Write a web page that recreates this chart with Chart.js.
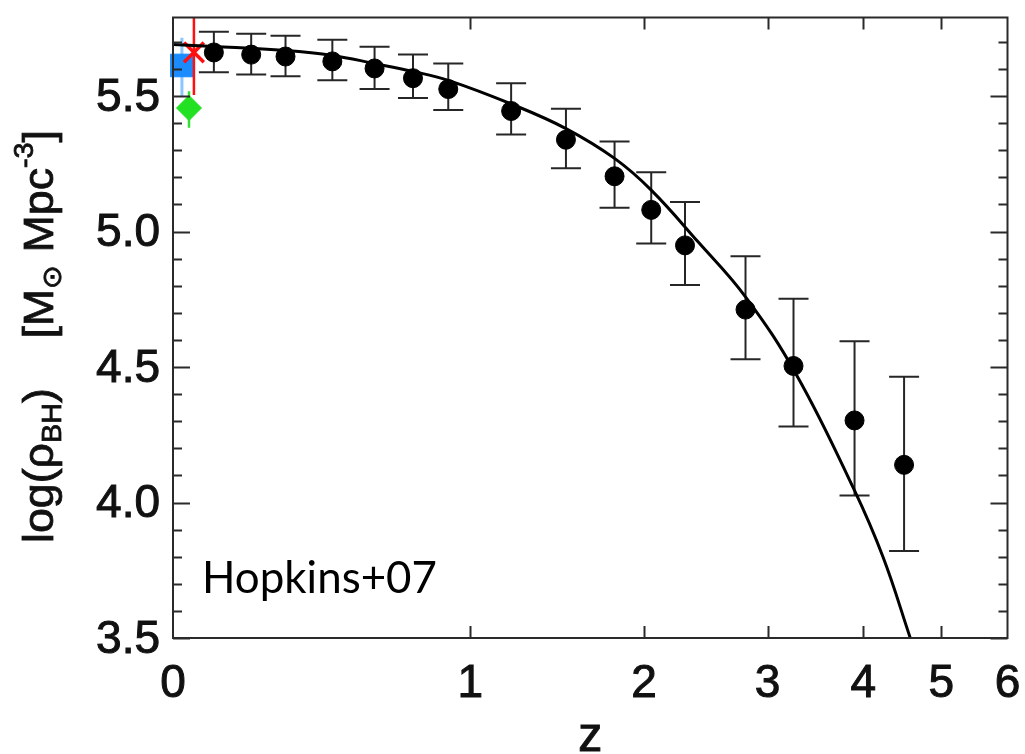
<!DOCTYPE html>
<html lang="en">
<head>
  <meta charset="UTF-8" />
  <title>Black hole mass density vs redshift</title>
  <script src="https://cdn.jsdelivr.net/npm/chart.js"></script>
  <style>
    html, body { margin: 0; padding: 0; background: #fff; }
    #wrap { width: 1025px; height: 754px; }
  </style>
</head>
<body>
  <div id="wrap"><canvas id="rhoChart" width="1025" height="754"></canvas></div>

  <script>
    // Hopkins+07 binned estimates: redshift, log(rho_BH) and error range
    const zBins   = [0.1, 0.2, 0.3, 0.45, 0.6, 0.75, 0.9, 1.2, 1.5, 1.8, 2.05, 2.3, 2.8, 3.25, 3.9, 4.5];
    const logRho  = [5.661, 5.653, 5.646, 5.628, 5.602, 5.566, 5.526, 5.445, 5.339, 5.204, 5.080, 4.949, 4.712, 4.504, 4.303, 4.139];
    const errLow  = [5.588, 5.580, 5.573, 5.558, 5.526, 5.493, 5.449, 5.358, 5.234, 5.088, 4.956, 4.803, 4.529, 4.281, 4.026, 3.821];
    const errHigh = [5.737, 5.730, 5.723, 5.708, 5.682, 5.653, 5.620, 5.547, 5.453, 5.332, 5.219, 5.109, 4.909, 4.752, 4.595, 4.464];

    // fitted curve, read at a handful of redshifts
    const fitZ   = [0, 0.1, 0.3, 0.45, 0.6, 0.75, 0.9, 1.2, 1.5, 1.8, 2.05, 2.4, 2.8, 3.28, 3.89, 4.24, 4.58];
    const fitRho = [5.690, 5.683, 5.668, 5.650, 5.620, 5.591, 5.558, 5.471, 5.380, 5.270, 5.153, 4.963, 4.759, 4.471, 4.051, 3.796, 3.5];

    // local (z ~ 0) estimates: blue square, red cross, green diamond
    const localZ    = [0.021, 0.05, 0.038];
    const localRho  = [5.613, 5.661, 5.456];
    const localLow  = [5.500, 5.504, 5.383];
    const localHigh = [5.715, 5.800, 5.518];

    const zTicks = [0, 1, 2, 3, 4, 5, 6];
    const yTicks = [3.5, 4.0, 4.5, 5.0, 5.5];
    const yMinorStep = 0.1;

    // x axis is linear in log10(1+z)
    const zx = z => Math.log10(1 + z);

    const pts = (zs, ys) => zs.map((z, i) => ({ x: zx(z), y: ys[i] }));

    // error bars as one broken line, caps drawn with the 'line' point style
    const errSegs = [];
    zBins.forEach((z, i) => {
      errSegs.push({ x: zx(z), y: errLow[i] }, { x: zx(z), y: errHigh[i] }, { x: zx(z), y: null });
    });
    const localSeg = i => [{ x: zx(localZ[i]), y: localLow[i] }, { x: zx(localZ[i]), y: localHigh[i] }];

    const plain = { showLine: true, pointRadius: 0, tension: 0, spanGaps: false };

    // text drawn twice: fill plus a thin stroke to get the heavier look
    function heavyText(ctx, s, x, y) {
      ctx.fillText(s, x, y);
      ctx.strokeText(s, x, y);
    }

    // frame, inward ticks, labels and titles
    const framePlugin = {
      id: 'frame',
      afterDraw(chart) {
        const { ctx, chartArea: a, scales: { x, y } } = chart;
        ctx.save();
        ctx.strokeStyle = '#2a2a2a';
        ctx.lineWidth = 2;
        ctx.strokeRect(a.left, a.top, a.right - a.left, a.bottom - a.top);

        // y ticks, both sides
        ctx.beginPath();
        for (let v = yTicks[0]; v <= y.max + 1e-9; v += yMinorStep) {
          const py = Math.round(y.getPixelForValue(v)) + 0.5;
          const major = yTicks.some(t => Math.abs(t - v) < 1e-6);
          const len = major ? 17 : 9;
          ctx.moveTo(a.left, py); ctx.lineTo(a.left + len, py);
          ctx.moveTo(a.right, py); ctx.lineTo(a.right - len, py);
        }
        // x ticks, bottom and top
        zTicks.slice(1, -1).forEach(z => {
          const px = Math.round(x.getPixelForValue(zx(z))) + 0.5;
          ctx.moveTo(px, a.bottom); ctx.lineTo(px, a.bottom - 12);
          ctx.moveTo(px, a.top); ctx.lineTo(px, a.top + 12);
        });
        ctx.stroke();

        ctx.fillStyle = '#111';
        ctx.strokeStyle = '#111';
        ctx.lineWidth = 1;
        ctx.font = '46px "Liberation Sans", Arial, sans-serif';
        ctx.textAlign = 'right';
        ctx.textBaseline = 'middle';
        yTicks.forEach(t => heavyText(ctx, t.toFixed(1), 160, y.getPixelForValue(t) + 2));

        ctx.textAlign = 'center';
        zTicks.forEach(z => heavyText(ctx, String(z), x.getPixelForValue(zx(z)), 684));

        ctx.font = '48px "Liberation Sans", Arial, sans-serif';
        heavyText(ctx, 'z', (a.left + a.right) / 2, 738);

        // y title: log(rho_BH)   [M_sun Mpc^-3]
        const main = '42px "Liberation Sans", Arial, sans-serif';
        const small = '27px "Liberation Sans", "DejaVu Sans", sans-serif';
        const parts = [
          ['log(\u03c1', main, 0], ['BH', small, 8], [')', main, 0],
          ['    [M', main, 0], ['\u2299', small, 8], [' Mpc', main, 0],
          ['-3', small, -20], [']', main, 0]
        ];
        let total = 0;
        parts.forEach(p => { ctx.font = p[1]; total += ctx.measureText(p[0]).width; });
        const sx = 413 / total;
        ctx.save();
        ctx.translate(53, 543);
        ctx.rotate(-Math.PI / 2);
        ctx.scale(sx, 1);
        ctx.textAlign = 'left';
        ctx.textBaseline = 'alphabetic';
        ctx.lineWidth = 0.8;
        let cx = 0;
        parts.forEach(p => {
          ctx.font = p[1];
          heavyText(ctx, p[0], cx, p[2]);
          cx += ctx.measureText(p[0]).width;
        });
        ctx.restore();

        // panel label
        ctx.font = '44px Lato, "Open Sans", sans-serif';
        const w = ctx.measureText('Hopkins+07').width;
        ctx.save();
        ctx.translate(202, 593);
        ctx.scale(235 / w, 1);
        ctx.textAlign = 'left';
        ctx.textBaseline = 'alphabetic';
        ctx.fillStyle = '#000';
        ctx.fillText('Hopkins+07', 0, 0);
        ctx.restore();

        ctx.restore();
      }
    };

    new Chart(document.getElementById('rhoChart'), {
      type: 'scatter',
      data: {
        datasets: [
          { // binned points
            data: pts(zBins, logRho), order: 1,
            pointRadius: 9.5, pointBackgroundColor: '#000', pointBorderColor: '#000', showLine: false
          },
          { // fit
            ...plain, data: pts(fitZ, fitRho), order: 2,
            borderColor: '#000', borderWidth: 3, tension: 0.4
          },
          { // error bars
            ...plain, data: errSegs, order: 3,
            borderColor: '#262626', borderWidth: 2,
            pointStyle: 'line', pointRadius: 15, pointBorderWidth: 2, pointBorderColor: '#262626'
          },
          { // green diamond
            data: [{ x: zx(localZ[2]), y: localRho[2] }], order: 4, showLine: false,
            pointStyle: 'rectRot', pointRadius: 12.5, pointBackgroundColor: '#22e022', pointBorderColor: '#22e022'
          },
          { ...plain, data: localSeg(2), order: 5, borderColor: '#33e033', borderWidth: 2.5 },
          { // red cross
            data: [{ x: zx(localZ[1]), y: localRho[1] }], order: 6, showLine: false,
            pointStyle: 'crossRot', pointRadius: 14, pointBorderWidth: 3.5, pointBorderColor: '#ff1010'
          },
          { ...plain, data: localSeg(1), order: 7, borderColor: '#ff1010', borderWidth: 2.5 },
          { // blue square
            data: [{ x: zx(localZ[0]), y: localRho[0] }], order: 8, showLine: false, clip: false,
            pointStyle: 'rect', pointRadius: 16, pointBackgroundColor: '#1a8cff', pointBorderColor: '#1a8cff'
          },
          { ...plain, data: localSeg(0), order: 9, borderColor: '#8cc6ff', borderWidth: 3 }
        ]
      },
      options: {
        responsive: false,
        animation: false,
        layout: { padding: { left: 173, right: 13, top: 9, bottom: 116 } },
        plugins: { legend: { display: false }, tooltip: { enabled: false } },
        scales: {
          x: { type: 'linear', display: false, min: 0, max: zx(6) },
          y: { type: 'linear', display: false, min: 3.5, max: 5.79 }
        }
      },
      plugins: [framePlugin]
    });
  </script>
</body>
</html>
